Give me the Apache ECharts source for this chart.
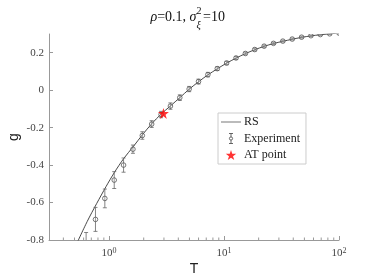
<!DOCTYPE html>
<html>
<head>
<meta charset="utf-8">
<script src="https://cdn.jsdelivr.net/npm/echarts@6/dist/echarts.min.js"></script>
<style>html,body{margin:0;padding:0;background:#fff;}#c{width:374px;height:280px;}</style>
</head>
<body>
<div id="c"></div>
<script>
// Experiment (T, g, error half-width)
const T_EXP = [0.631,0.761,0.918,1.108,1.336,1.612,1.945,2.346,2.831,3.415,4.12,4.971,5.997,7.235,8.729,10.53,12.71,15.33,18.49,22.31,26.92,32.47,39.18,47.27,57.03,68.8,83.0,100];
const G_EXP = [-0.83,-0.69,-0.578,-0.48,-0.40,-0.315,-0.242,-0.181,-0.13,-0.085,-0.04,0.006,0.046,0.083,0.115,0.145,0.172,0.196,0.217,0.235,0.25,0.262,0.273,0.283,0.291,0.297,0.301,0.305];
const ERR_EXP = [0.07,0.064,0.05,0.045,0.038,0.022,0.02,0.018,0.017,0.017,0.015,0.014,0.013,0.012,0.01,0.009,0.008,0.007,0.007,0.006,0.006,0.005,0.005,0.005,0.004,0.004,0.004,0.004];
// RS theory curve
const T_RS = [0.513,0.645,0.78,0.94,1.11,1.34,1.62,1.95,2.35,2.83,3.42,4.12,4.97,6.0,7.24,8.73,10.5,12.7,15.3,18.5,22.3,26.9,32.5,39.2,47.3,57.0,68.8,83.0,100];
const G_RS = [-0.83,-0.701,-0.605,-0.515,-0.44,-0.365,-0.302,-0.238,-0.179,-0.128,-0.084,-0.04,0.005,0.045,0.082,0.114,0.144,0.171,0.195,0.216,0.234,0.249,0.261,0.272,0.282,0.29,0.296,0.301,0.305];
// AT point
const T_AT = [2.97];
const G_AT = [-0.124];
// axis settings
const X_MIN = 0.3, X_MAX = 100;
const Y_MIN = -0.8, Y_MAX = 0.3, Y_STEP = 0.2;
const X_MINOR_TICKS = [0.4,0.5,0.6,0.7,0.8,0.9,2,3,4,5,6,7,8,9,20,30,40,50,60,70,80,90];

const STAR = 'path://M50,0L61.2,34.5L97.6,34.5L68.2,55.9L79.4,90.5L50,69.1L20.6,90.5L31.8,55.9L2.4,34.5L38.8,34.5Z';
const EXP_ICON = 'path://M3,0H7M5,0V3.4M5,6.6V10M3,10H7M6.6,5A1.6,1.6,0,1,1,3.4,5A1.6,1.6,0,1,1,6.6,5';
const LINE_ICON = 'path://M0,0H20V1H0Z';
const SERIF = 'Liberation Serif';
const SANS = 'Liberation Sans';

const chart = echarts.init(document.getElementById('c'));
chart.setOption({
  animation: false,
  backgroundColor: '#fff',
  grid: {left: 49, right: 35, top: 34, bottom: 40, containLabel: false, outerBoundsMode: 'none'},
  graphic: [
    {type: 'text', x: 196.5, y: 17, style: {text: '{i|ρ}=0.1, {i|σ}', align: 'right', verticalAlign: 'middle',
      fontFamily: SERIF, fontSize: 14, fill: '#111',
      rich: {i: {fontStyle: 'italic', fontFamily: SERIF, fontSize: 14}}}},
    {type: 'text', x: 196.5, y: 11.5, style: {text: '2', align: 'left', verticalAlign: 'middle', fontFamily: SERIF, fontSize: 10, fill: '#111'}},
    {type: 'text', x: 196.5, y: 25.5, style: {text: 'ξ', align: 'left', verticalAlign: 'middle', fontFamily: SERIF, fontStyle: 'italic', fontSize: 10, fill: '#111'}},
    {type: 'text', x: 203, y: 17, style: {text: '=10', align: 'left', verticalAlign: 'middle', fontFamily: SERIF, fontSize: 14, fill: '#111'}}
  ],
  legend: {
    orient: 'vertical', left: 218, top: 113,
    backgroundColor: '#fff', borderColor: '#ccc', borderWidth: 1, borderRadius: 0,
    padding: [3, 6, 3, 3], itemGap: 3, itemWidth: 20, itemHeight: 10,
    textStyle: {fontFamily: SERIF, fontSize: 12, color: '#222', padding: [0, 0, 0, -2]},
    data: [
      {name: 'RS', icon: LINE_ICON, itemStyle: {color: '#777', borderWidth: 0}},
      {name: 'Experiment', icon: EXP_ICON, itemStyle: {color: 'none', borderColor: '#555', borderWidth: 0.9}},
      {name: 'AT point', icon: STAR, itemStyle: {color: '#ff0000'}}
    ]
  },
  xAxis: {
    type: 'log', logBase: 10, min: X_MIN, max: X_MAX,
    name: 'T', nameLocation: 'middle', nameGap: 22, nameMoveOverlap: false,
    nameTextStyle: {fontFamily: SANS, fontSize: 14, color: '#222'},
    axisLine: {show: true, onZero: false, lineStyle: {color: '#999', width: 1}},
    axisTick: {show: true, inside: true, length: 4, lineStyle: {color: '#999'}},
    minorTick: {show: false},
    splitLine: {show: false},
    axisLabel: {
      margin: 7, color: '#444',
      formatter: function (v) {
        const l = Math.log10(v);
        if (Math.abs(l - Math.round(l)) < 1e-6) return '{b|10}{s|' + Math.round(l) + '}';
        return '';
      },
      rich: {b: {fontFamily: SERIF, fontSize: 11, color: '#444'}, s: {fontFamily: SERIF, fontSize: 8, color: '#444', verticalAlign: 'top', padding: [0, 0, 5, 0]}}
    }
  },
  yAxis: {
    type: 'value', min: Y_MIN, max: Y_MAX, interval: Y_STEP,
    name: 'g', nameLocation: 'middle', nameGap: 28, nameMoveOverlap: false,
    nameTextStyle: {fontFamily: SANS, fontSize: 14, color: '#222'},
    axisLine: {show: true, onZero: false, lineStyle: {color: '#999', width: 1}},
    axisTick: {show: true, inside: true, length: 4, lineStyle: {color: '#999'}},
    splitLine: {show: false},
    axisLabel: {
      margin: 5, color: '#444', fontFamily: SERIF, fontSize: 11, showMaxLabel: false,
      formatter: function (v) { return Math.abs(v - Y_MAX) < 1e-9 ? '' : String(Math.round(v * 10) / 10); }
    }
  },
  series: [
    {
      name: 'RS', type: 'line', data: T_RS.map((t, i) => [t, G_RS[i]]),
      symbol: 'none', smooth: 0.3, clip: true,
      lineStyle: {color: '#333', width: 0.9}, itemStyle: {color: '#333'}, z: 2
    },
    {
      name: 'Experiment', type: 'custom', clip: true, z: 3,
      data: T_EXP.map((t, i) => [t, G_EXP[i], ERR_EXP[i]]),
      encode: {x: 0, y: 1},
      itemStyle: {color: '#555'},
      renderItem: function (params, api) {
        const t = api.value(0), g = api.value(1), e = api.value(2);
        const c = api.coord([t, g]);
        const top = api.coord([t, g + e]);
        const bot = api.coord([t, g - e]);
        const cap = 2;
        const st = {stroke: '#666', lineWidth: 0.8, fill: null};
        return {type: 'group', children: [
          {type: 'line', shape: {x1: c[0], y1: top[1], x2: c[0], y2: bot[1]}, style: st},
          {type: 'line', shape: {x1: c[0] - cap, y1: top[1], x2: c[0] + cap, y2: top[1]}, style: st},
          {type: 'line', shape: {x1: c[0] - cap, y1: bot[1], x2: c[0] + cap, y2: bot[1]}, style: st},
          {type: 'circle', shape: {cx: c[0], cy: c[1], r: 2.3}, style: {stroke: '#555', lineWidth: 0.8, fill: 'rgba(255,255,255,0.2)'}}
        ]};
      }
    },
    {
      name: 'AT point', type: 'scatter', data: T_AT.map((t, i) => [t, G_AT[i]]),
      symbol: STAR, symbolSize: 11, itemStyle: {color: '#ff0000'}, z: 5
    },
    {
      name: 'minorTicks', type: 'custom', silent: true, clip: false, z: 1,
      data: X_MINOR_TICKS.map(t => [t, Y_MIN]),
      encode: {x: 0, y: 1},
      renderItem: function (params, api) {
        const p = api.coord([api.value(0), api.value(1)]);
        return {type: 'line', shape: {x1: p[0], y1: p[1], x2: p[0], y2: p[1] - 2.5}, style: {stroke: '#999', lineWidth: 1}};
      }
    }
  ]
});
</script>
</body>
</html>
